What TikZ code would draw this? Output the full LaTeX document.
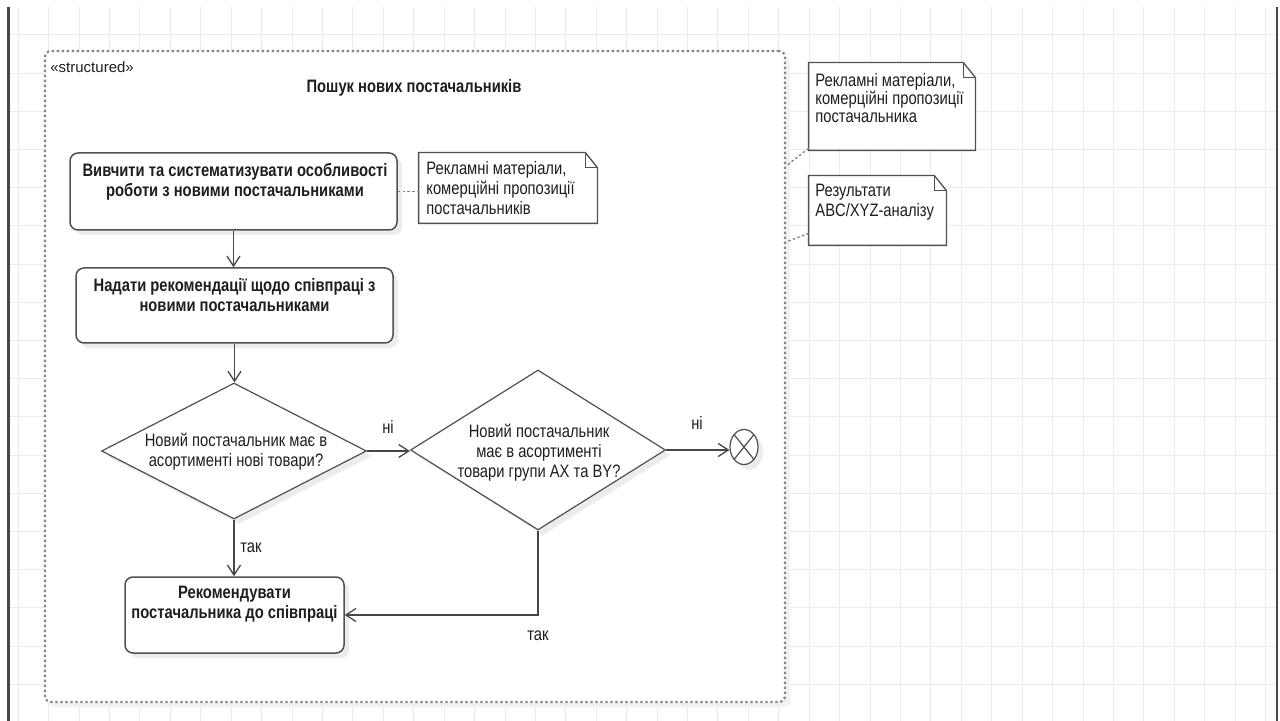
\documentclass[tikz,border=0pt]{standalone}
\usepackage{fontspec}
\setmainfont{Liberation Sans}[FakeStretch=0.82]
\newfontfamily\plainfont{Liberation Sans}
\usetikzlibrary{arrows.meta,shapes.geometric,calc,shadows}
\definecolor{gridc}{HTML}{EBEBEB}
\definecolor{edge}{HTML}{505050}
\definecolor{shade}{HTML}{ECECEC}
\definecolor{ink}{HTML}{1E1E1E}
\definecolor{dots}{HTML}{858585}
\definecolor{rail}{HTML}{474747}

\begin{document}
\begin{tikzpicture}[x=0.5pt,y=-0.5pt,
  wh/.style 2 args={minimum width=#1*0.5pt, minimum height=#2*0.5pt},
  txt/.style={text=ink, font=\fontsize{9}{10}\selectfont, align=center, inner sep=0pt},
  txtb/.style={txt, font=\fontsize{9}{10}\selectfont\bfseries},
  notetxt/.style={txt, align=left, anchor=west},
  soft/.style={drop shadow={shadow xshift=2.5pt, shadow yshift=-2.5pt, fill=shade, opacity=1}},
  actbox/.style={draw=edge, line width=0.75pt, rounded corners=4pt, fill=white, inner sep=0pt, soft},
  decision/.style={diamond, draw=edge, line width=0.6pt, fill=white, inner sep=0pt, soft},
  finalnode/.style={ellipse, draw=edge, line width=0.6pt, fill=white, inner sep=0pt, soft},
  region/.style={draw=dots, line width=1.1pt, dash pattern=on 1.2pt off 1.3pt, rounded corners=3pt, fill=white, inner sep=0pt,
    drop shadow={shadow xshift=2.5pt, shadow yshift=-2.5pt, fill=shade!70, opacity=1}},
  notebox/.style={draw=none, inner sep=0pt},
  noteline/.style={draw=edge, line width=0.65pt, fill=white},
  flow/.style={draw=rail, line width=0.65pt, -{Straight Barb[length=5pt,width=6.5pt]}},
  anchorline/.style={draw=dots, line width=0.7pt, dash pattern=on 1.2pt off 1.2pt},
]
\useasboundingbox (0,0) rectangle (1280,721);
\fill[white] (0,0) rectangle (1280,721);

% background grid
\foreach \k in {0,...,41}
  \draw[gridc, line width=0.5pt] ({18.3+30.42*\k},7) -- ({18.3+30.42*\k},721);
\foreach \k in {0,...,17}
  \draw[gridc, line width=0.5pt] (9,{35+38.19*\k}) -- (1277,{35+38.19*\k});
% side rails
\draw[rail, line width=1.25pt] (8.5,7) -- (8.5,721);
\draw[rail, line width=1.25pt] (1277,7) -- (1277,721);

% structured activity region
\node[region, wh={740}{651}] (reg) at (415,376.5) {};
\node[txt, anchor=west, font=\fontsize{7.5}{8}\selectfont\plainfont] (st) at (50,67) {«structured»};
\node[txtb] (title) at (414,88) {Пошук нових постачальників};

% actions
\node[actbox, wh={327}{77}] (b1) at (233.5,191.5) {};
\node[txtb] (t1) at (235,182) {Вивчити та систематизувати особливості\\роботи з новими постачальниками};

\node[actbox, wh={317}{75}] (b2) at (234.5,305.5) {};
\node[txtb] (t2) at (234.5,295) {Надати рекомендації щодо співпраці з\\новими постачальниками};

\node[actbox, wh={219}{76}] (b3) at (234.5,615) {};
\node[txtb] (t3) at (234.5,604.5) {Рекомендувати\\постачальника до співпраці};

% decisions
\node[decision, wh={265}{136}] (d1) at (234,451) {};
\node[txt] (t4) at (236,451.5) {Новий постачальник має в\\асортименті нові товари?};

\node[decision, wh={255}{160}] (d2) at (538,450) {};
\node[txt] (t5) at (539,453) {Новий постачальник\\має в асортименті\\товари групи AX та BY?};

% flow final
\node[finalnode, wh={28}{35}] (fin) at (744,447) {};
\draw[edge, line width=0.6pt] ($(fin.center)+(-9.9,-12.4)$) -- ($(fin.center)+(9.9,12.4)$);
\draw[edge, line width=0.6pt] ($(fin.center)+(-9.9,12.4)$) -- ($(fin.center)+(9.9,-12.4)$);

% notes
\node[notebox, wh={178}{70}] (n1) at (508,188) {};
\draw[noteline] (n1.south west) |- ($(n1.north east)+(-12,0)$) -- ($(n1.north east)+(0,15)$) -- (n1.south east) -- cycle;
\draw[edge, line width=0.65pt] ($(n1.north east)+(-12,0)$) |- ($(n1.north east)+(0,15)$);
\node[notetxt] (nt1) at (426,188) {Рекламні матеріали,\\комерційні пропозиції\\постачальників};

\node[notebox, wh={166}{87}] (n2) at (892,106.5) {};
\draw[noteline] (n2.south west) |- ($(n2.north east)+(-12,0)$) -- ($(n2.north east)+(0,15)$) -- (n2.south east) -- cycle;
\draw[edge, line width=0.65pt] ($(n2.north east)+(-12,0)$) |- ($(n2.north east)+(0,15)$);
\node[notetxt, font=\fontsize{9}{8.8}\selectfont] (nt2) at (815,98) {Рекламні матеріали,\\комерційні пропозиції\\постачальника};

\node[notebox, wh={137}{69}] (n3) at (877.5,210.5) {};
\draw[noteline] (n3.south west) |- ($(n3.north east)+(-12,0)$) -- ($(n3.north east)+(0,15)$) -- (n3.south east) -- cycle;
\draw[edge, line width=0.65pt] ($(n3.north east)+(-12,0)$) |- ($(n3.north east)+(0,15)$);
\node[notetxt] (nt3) at (815,202) {Результати\\ABC/XYZ-аналізу};

% note anchors
\coordinate (r2) at (786,166);
\coordinate (r3) at (786,242);
\draw[anchorline] (b1.east) -- (b1.east -| n1.west);
\draw[anchorline] ($(n2.south west)+(0,-2)$) -- (r2);
\draw[anchorline] ($(n3.south west)+(0,-12)$) -- (r3);

% control flow
\draw[flow] (b1.south) -- (b1.south |- b2.north);
\draw[flow] (b2.south) -- (b2.south |- d1.north);
\draw[flow] (d1.east) -- (d1.east -| d2.west);
\node[txt] (l1) at (388,427) {ні};
\draw[flow] (d2.east) -- (d2.east -| fin.west);
\node[txt] (l2) at (697,423) {ні};
\draw[flow] (d1.south) -- (d1.south |- b3.north);
\node[txt, anchor=west] (l3) at (240,548) {так};
\draw[flow] (d2.south) |- (b3.east);
\node[txt] (l4) at (538,636) {так};
\end{tikzpicture}
\end{document}
